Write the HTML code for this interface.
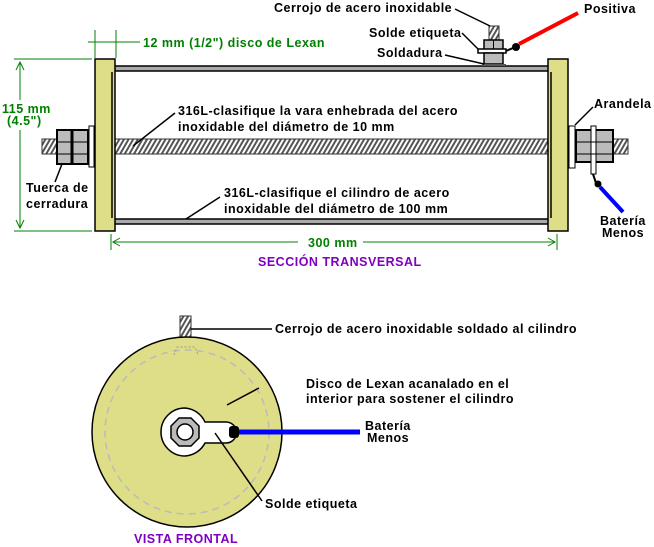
<!DOCTYPE html>
<html><head><meta charset="utf-8"><style>
html,body{margin:0;padding:0;background:#fff;}
svg{display:block}
text{font-family:"Liberation Sans",Arial,sans-serif;font-weight:bold;font-size:12.5px;letter-spacing:0.5px;}
.g{fill:#008000}.p{fill:#7f00c0}
</style></head><body>
<svg width="654" height="547" viewBox="0 0 654 547" xmlns="http://www.w3.org/2000/svg">
<defs>
<pattern id="thr" width="4" height="4" patternUnits="userSpaceOnUse" patternTransform="rotate(30)">
<rect width="4" height="4" fill="#fff"/><rect width="2" height="4" fill="#555"/>
</pattern>
</defs>
<g stroke="#008000" stroke-width="1" fill="none">
<line x1="95" y1="30" x2="95" y2="58"/><line x1="116" y1="30" x2="116" y2="58"/>
<line x1="88" y1="42" x2="140" y2="42"/>
<line x1="14" y1="59" x2="92" y2="59"/><line x1="14" y1="231" x2="92" y2="231"/>
<line x1="20" y1="62" x2="20" y2="100"/><line x1="20" y1="130" x2="20" y2="228"/>
<polyline points="16,70 20,62 24,70"/><polyline points="16,220 20,228 24,220"/>
<line x1="111" y1="234" x2="111" y2="250"/><line x1="557" y1="234" x2="557" y2="250"/>
<line x1="113" y1="242" x2="298" y2="242"/><line x1="363" y1="242" x2="555" y2="242"/>
<polyline points="120,238 113,242 120,246"/><polyline points="548,238 555,242 548,246"/>
</g>
<text x="143" y="47" class="g">12 mm (1/2") disco de Lexan</text>
<text x="2" y="113" class="g">115 mm</text>
<text x="7" y="125" class="g">(4.5")</text>
<text x="308" y="247" class="g">300 mm</text>
<text x="258" y="266" class="p">SECCIÓN TRANSVERSAL</text>
<rect x="42" y="139" width="586" height="15" fill="url(#thr)" stroke="#333" stroke-width="1"/>
<rect x="111" y="66" width="443" height="5" fill="#aaa" stroke="#000" stroke-width="1.5"/>
<rect x="111" y="219" width="443" height="5" fill="#aaa" stroke="#000" stroke-width="1.5"/>
<rect x="95" y="59" width="20" height="172" fill="#dede88" stroke="#000" stroke-width="1.5"/>
<rect x="548" y="59" width="20" height="172" fill="#dede88" stroke="#000" stroke-width="1.5"/>
<line x1="112" y1="72" x2="112" y2="218" stroke="#000" stroke-width="1.5"/>
<line x1="551" y1="72" x2="551" y2="218" stroke="#000" stroke-width="1.5"/>
<rect x="89" y="126" width="5" height="41" fill="#fff" stroke="#000"/>
<rect x="57" y="130" width="31" height="34" fill="#bbb" stroke="#000" stroke-width="2"/>
<line x1="72" y1="130" x2="72" y2="164" stroke="#000" stroke-width="3"/>
<line x1="57" y1="142" x2="88" y2="142" stroke="#000"/><line x1="57" y1="154" x2="88" y2="154" stroke="#000"/>
<rect x="569" y="126" width="6" height="42" fill="#fff" stroke="#000"/>
<rect x="576" y="130" width="37" height="32" fill="#bbb" stroke="#000" stroke-width="2"/>
<rect x="591" y="126" width="5" height="48" fill="#fff" stroke="#000"/>
<line x1="576" y1="142" x2="613" y2="142" stroke="#000"/><line x1="576" y1="154" x2="613" y2="154" stroke="#000"/>
<path d="M593 174 L596 183" stroke="#000" stroke-width="2"/>
<circle cx="598" cy="184" r="3.5" fill="#000"/>
<line x1="600" y1="187" x2="623" y2="212" stroke="#0000ff" stroke-width="4"/>
<rect x="489" y="26" width="10" height="14" fill="url(#thr)" stroke="#333"/>
<rect x="484" y="40" width="19" height="10" fill="#bbb" stroke="#000" stroke-width="1.5"/>
<line x1="493.5" y1="40" x2="493.5" y2="64" stroke="#000"/>
<rect x="478" y="49" width="28" height="4" fill="#fff" stroke="#000" stroke-width="1.5"/>
<rect x="484" y="53" width="19" height="11" fill="#bbb" stroke="#000" stroke-width="1.5"/>
<rect x="482" y="64" width="24" height="2" fill="#555"/>
<line x1="506" y1="51" x2="513" y2="48" stroke="#000" stroke-width="2"/>
<circle cx="516" cy="47" r="4" fill="#000"/>
<line x1="519" y1="44" x2="578" y2="13" stroke="#ff0000" stroke-width="4"/>
<g stroke="#000" stroke-width="1.5" fill="none">
<line x1="455" y1="9" x2="490" y2="26"/>
<line x1="462" y1="33" x2="478" y2="49"/>
<line x1="445" y1="55" x2="484" y2="64"/>
<line x1="575" y1="125" x2="593" y2="107"/>
<line x1="175" y1="113" x2="133" y2="146"/>
<line x1="220" y1="197" x2="186" y2="219"/>
<line x1="62" y1="164" x2="55" y2="182"/>
</g>
<text x="274" y="12">Cerrojo de acero inoxidable</text>
<text x="584" y="13">Positiva</text>
<text x="369" y="37">Solde etiqueta</text>
<text x="377" y="57">Soldadura</text>
<text x="594" y="108">Arandela</text>
<text x="178" y="115">316L-clasifique la vara enhebrada del acero</text>
<text x="178" y="131">inoxidable del diámetro de 10 mm</text>
<text x="224" y="197">316L-clasifique el cilindro de acero</text>
<text x="224" y="213">inoxidable del diámetro de 100 mm</text>
<text x="26" y="192">Tuerca de</text>
<text x="26" y="208">cerradura</text>
<text x="600" y="225">Batería</text>
<text x="602" y="237">Menos</text>
<rect x="180" y="316" width="11" height="28" fill="url(#thr)" stroke="#333"/>
<circle cx="187" cy="432" r="95" fill="#dede88" stroke="#000" stroke-width="1.5"/>
<circle cx="187" cy="432" r="82" fill="none" stroke="#bbb" stroke-width="1.5" stroke-dasharray="7,5"/>
<path d="M174 355 L177 347 H195 L198 355" fill="none" stroke="#999" stroke-dasharray="2,2"/>
<line x1="191" y1="329" x2="272" y2="329" stroke="#000" stroke-width="1.5"/>
<line x1="259" y1="388" x2="227" y2="405" stroke="#000" stroke-width="1.5"/>
<path d="M185 408 A24 24 0 1 0 185 456 A24 24 0 0 0 205 443 H226 A5 5 0 0 0 226 422 H205 A24 24 0 0 0 185 408 Z" fill="#fff" stroke="#000" stroke-width="1.5"/>
<polygon points="179,418 191,418 199,426 199,438 191,446 179,446 171,438 171,426" fill="#bbb" stroke="#000" stroke-width="1.5"/>
<circle cx="185" cy="432" r="8" fill="#fff" stroke="#000" stroke-width="1.5"/>
<rect x="229" y="426" width="10" height="12" rx="3" fill="#000"/>
<line x1="239" y1="432" x2="360" y2="432" stroke="#0000ff" stroke-width="5"/>
<line x1="215" y1="433" x2="262" y2="501" stroke="#000" stroke-width="1.5"/>
<text x="275" y="333">Cerrojo de acero inoxidable soldado al cilindro</text>
<text x="306" y="388">Disco de Lexan acanalado en el</text>
<text x="306" y="403">interior para sostener el cilindro</text>
<text x="365" y="430">Batería</text>
<text x="367" y="442">Menos</text>
<text x="265" y="508">Solde etiqueta</text>
<text x="134" y="543" class="p">VISTA FRONTAL</text>
</svg>
</body></html>
